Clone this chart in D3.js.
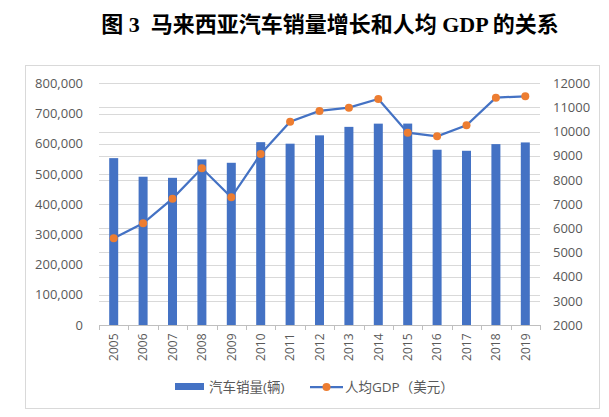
<!DOCTYPE html>
<html><head><meta charset="utf-8">
<script src="https://cdn.jsdelivr.net/npm/d3@7"></script>
<style>body{margin:0;background:#fff}svg{display:block}</style>
</head><body><svg id="c" width="609" height="417"></svg>
<script>
const years = ["2005","2006","2007","2008","2009","2010","2011","2012","2013","2014","2015","2016","2017","2018","2019"];
const sales = [552316,490768,487176,548115,536905,605156,600123,627753,655793,666465,666674,580124,576635,598714,604287];
const gdp = [5587,6207,7228,8483,7283,9076,10414,10855,10993,11352,9959,9807,10262,11407,11462];
const leftTicks = [0,100000,200000,300000,400000,500000,600000,700000,800000];
const rightTicks = [2000,3000,4000,5000,6000,7000,8000,9000,10000,11000,12000];
const titleText = "图 3  马来西亚汽车销量增长和人均 GDP 的关系";
const seriesNames = ["汽车销量(辆)","人均GDP（美元）"];

const svg = d3.select("#c");
const blue = "#4472C4", orange = "#ED7D31", txt = "#595959", grid = "#d9d9d9";
const font = "'Open Sans','Noto Sans CJK SC',sans-serif";

// title
svg.append("text").attr("x", 330).attr("y", 32).attr("text-anchor","middle")
  .attr("font-family","'Liberation Serif','Noto Sans CJK SC',serif").attr("font-weight","bold")
  .attr("font-size",22).attr("fill","#000").attr("xml:space","preserve").text(titleText);

// frame
svg.append("rect").attr("x",25.5).attr("y",65.5).attr("width",574).attr("height",343)
  .attr("fill","none").attr("stroke",grid);

const x = d3.scaleBand().domain(years).range([99,540]);
const yL = d3.scaleLinear().domain([0,800000]).range([325,83.3]);
const yR = d3.scaleLinear().domain([2000,12000]).range([325,83.3]);

// gridlines
const g = svg.append("g");
g.selectAll(".gl").data(leftTicks).join("line")
  .attr("x1",99).attr("x2",540).attr("y1",d=>Math.round(yL(d))+0.5).attr("y2",d=>Math.round(yL(d))+0.5)
  .attr("stroke",grid);
g.selectAll(".gr").data(rightTicks).join("line")
  .attr("x1",99).attr("x2",540).attr("y1",d=>Math.round(yR(d))+0.5).attr("y2",d=>Math.round(yR(d))+0.5)
  .attr("stroke",grid);

// left axis
const axL = svg.append("g").attr("transform","translate(99,0)")
  .call(d3.axisLeft(yL).tickValues(leftTicks).tickSize(0).tickPadding(16).tickFormat(d3.format(",")));
axL.select(".domain").remove();
axL.selectAll("text").attr("font-family",font).attr("font-size",13).attr("fill",txt);

// right axis
const axR = svg.append("g").attr("transform","translate(540,0)")
  .call(d3.axisRight(yR).tickValues(rightTicks).tickSize(0).tickPadding(13).tickFormat(d3.format("d")));
axR.select(".domain").remove();
axR.selectAll("text").attr("font-family",font).attr("font-size",13).attr("fill",txt);

// bars
const bw = 9;
svg.selectAll(".bar").data(years).join("rect")
  .attr("x",(d)=>x(d)+x.bandwidth()/2-bw/2).attr("width",bw)
  .attr("y",(d,i)=>yL(sales[i])).attr("height",(d,i)=>yL(0)-yL(sales[i]))
  .attr("fill",blue);

// x axis
const axB = svg.append("g").attr("transform","translate(0,325.5)")
  .call(d3.axisBottom(x).tickSize(0).tickPadding(0));
axB.select(".domain").attr("stroke","#bfbfbf").attr("d","M99,0H540");
axB.selectAll("text").attr("font-family",font).attr("font-size",12).attr("fill",txt)
  .attr("transform","rotate(-90)").attr("text-anchor","end").attr("x",-8).attr("y",0).attr("dy","0.35em");
// category boundary ticks
svg.selectAll(".xt").data(years.concat(["end"])).join("line")
  .attr("x1",(d,i)=>Math.round(99+i*x.step())+0.5).attr("x2",(d,i)=>Math.round(99+i*x.step())+0.5)
  .attr("y1",325).attr("y2",330).attr("stroke","#bfbfbf");

// line
const line = d3.line().x((d,i)=>x(years[i])+x.bandwidth()/2).y(d=>yR(d));
svg.append("path").datum(gdp).attr("d",line).attr("fill","none").attr("stroke",blue).attr("stroke-width",2.25);
svg.selectAll(".dot").data(gdp).join("circle")
  .attr("cx",(d,i)=>x(years[i])+x.bandwidth()/2).attr("cy",d=>yR(d)).attr("r",4)
  .attr("fill",orange);

// legend
const lg = svg.append("g");
lg.append("rect").attr("x",175).attr("y",383).attr("width",29).attr("height",7).attr("fill",blue);
lg.append("text").attr("x",209).attr("y",387).attr("dy","0.35em").attr("font-family",font)
  .attr("font-size",13.5).attr("fill",txt).text(seriesNames[0]);
lg.append("line").attr("x1",310).attr("x2",343).attr("y1",387).attr("y2",387).attr("stroke",blue).attr("stroke-width",2.25);
lg.append("circle").attr("cx",326.5).attr("cy",387).attr("r",4).attr("fill",orange);
lg.append("text").attr("x",345).attr("y",387).attr("dy","0.35em").attr("font-family",font)
  .attr("font-size",13.5).attr("fill",txt).text(seriesNames[1]);
</script></body></html>
